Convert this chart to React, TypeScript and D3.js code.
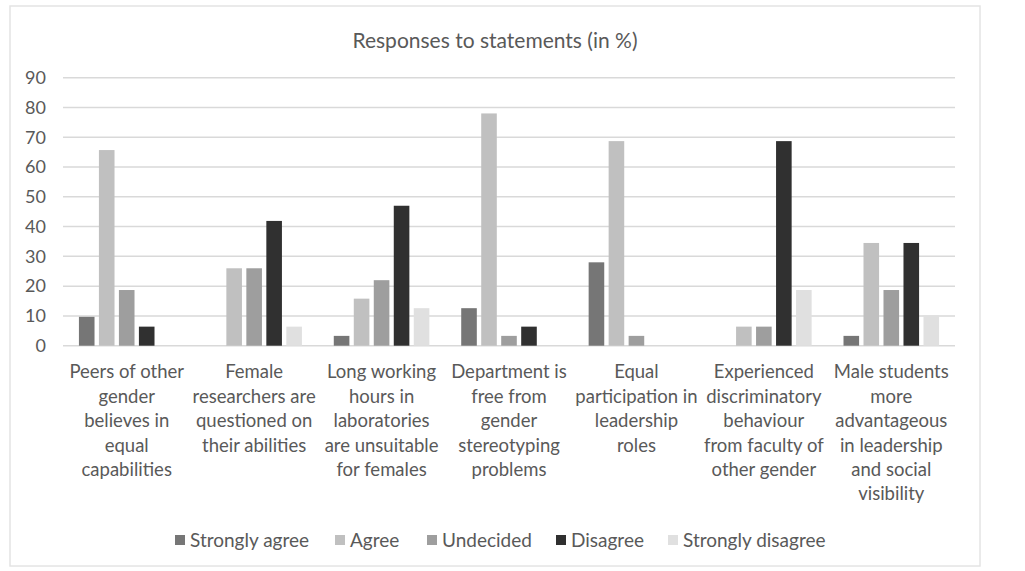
import React from 'react';
import * as d3 from 'd3';

const categories = [
  ['Peers of other', 'gender', 'believes in', 'equal', 'capabilities'],
  ['Female', 'researchers are', 'questioned on', 'their abilities'],
  ['Long working', 'hours in', 'laboratories', 'are unsuitable', 'for females'],
  ['Department is', 'free from', 'gender', 'stereotyping', 'problems'],
  ['Equal', 'participation in', 'leadership', 'roles'],
  ['Experienced', 'discriminatory', 'behaviour', 'from faculty of', 'other gender'],
  ['Male students', 'more', 'advantageous', 'in leadership', 'and social', 'visibility'],
];

const seriesNames = ['Strongly agree', 'Agree', 'Undecided', 'Disagree', 'Strongly disagree'];
const seriesColors = ['#767676', '#c0c0c0', '#9e9e9e', '#303030', '#e0e0e0'];

const stronglyAgree = [9.7, 0, 3.3, 12.6, 28.0, 0, 3.3];
const agree = [65.7, 26.0, 15.8, 78.0, 68.7, 6.4, 34.5];
const undecided = [18.7, 26.0, 22.0, 3.3, 3.3, 6.4, 18.7];
const disagree = [6.4, 41.9, 47.0, 6.4, 0, 68.7, 34.5];
const stronglyDisagree = [0, 6.4, 12.6, 0, 0, 18.7, 10.1];
const values = [stronglyAgree, agree, undecided, disagree, stronglyDisagree];

const yTicks = [0, 10, 20, 30, 40, 50, 60, 70, 80, 90];

const W = 1025;
const H = 571;
const font = 'Lato, "Open Sans", sans-serif';
const textColor = '#595959';

export default function App() {
  const x0 = d3.scaleBand<number>()
    .domain(d3.range(categories.length))
    .range([63, 955])
    .padding(0);
  const bw = x0.bandwidth();
  const x1 = d3.scaleBand<number>()
    .domain(d3.range(seriesNames.length))
    .range([bw * 0.125, bw * 0.875])
    .paddingInner(0.22);
  const y = d3.scaleLinear().domain([0, 90]).range([345.7, 77.7]);

  // legend item positions (swatch left edges)
  const legendX = [175, 335, 427, 556, 668];

  return (
    <svg width={W} height={H} style={{ position: 'absolute', left: 0, top: 0, background: '#fff' }}
      fontFamily={font}>
      <rect x={0} y={0} width={W} height={H} fill="#fff" />
      <rect x={10} y={6} width={970} height={560} fill="none" stroke="#e4e4e4" strokeWidth={1.5} />
      <text x={495} y={41} dy="0.35em" textAnchor="middle" fontSize={21} fill={textColor}>
        Responses to statements (in %)
      </text>
      {yTicks.map(t => (
        <g key={t}>
          <line x1={63} x2={955} y1={y(t)} y2={y(t)} stroke="#d9d9d9" strokeWidth={1.5} />
          <text x={46} y={y(t)} dy="0.35em" textAnchor="end" fontSize={18} fill={textColor}>{t}</text>
        </g>
      ))}
      {categories.map((lines, ci) => (
        <g key={ci} transform={`translate(${x0(ci)},0)`}>
          {values.map((s, si) => s[ci] > 0 && (
            <rect key={si} x={x1(si)} width={x1.bandwidth()} y={y(s[ci])}
              height={y(0) - y(s[ci])} fill={seriesColors[si]} />
          ))}
          {lines.map((ln, li) => (
            <text key={li} x={bw / 2} y={372 + li * 24.4} dy="0.35em" textAnchor="middle"
              fontSize={18.5} fill={textColor}>{ln}</text>
          ))}
        </g>
      ))}
      {seriesNames.map((n, i) => (
        <g key={n} transform={`translate(${legendX[i]},540)`}>
          <rect x={0} y={-5} width={10} height={10} fill={seriesColors[i]} />
          <text x={15} y={0} dy="0.35em" fontSize={19} fill={textColor}>{n}</text>
        </g>
      ))}
    </svg>
  );
}
